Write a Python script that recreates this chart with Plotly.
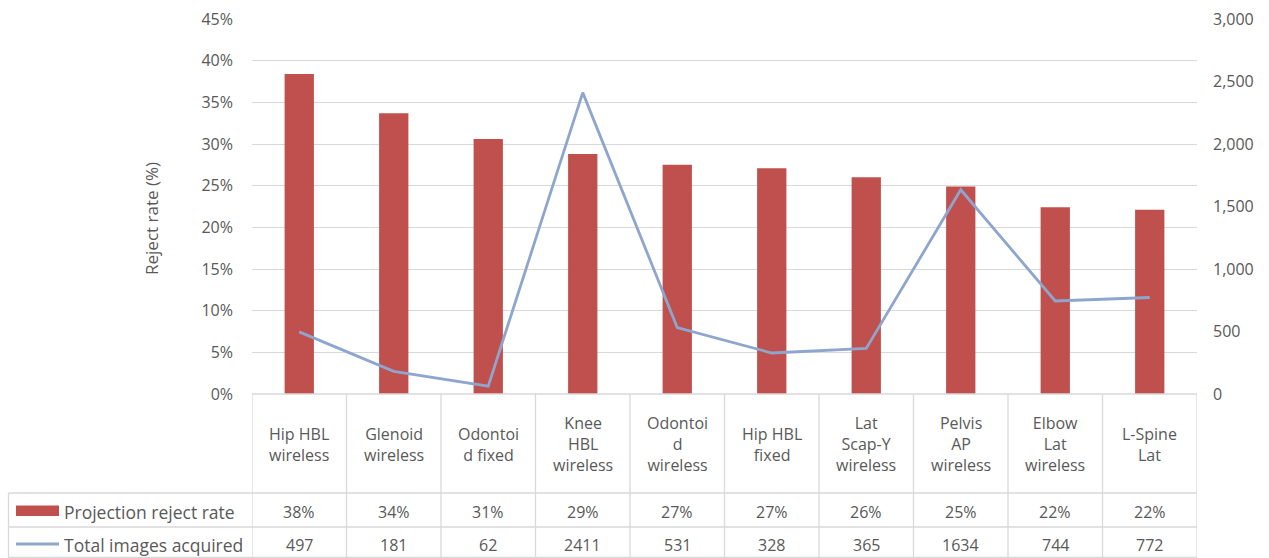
import plotly.graph_objects as go

categories = ["Hip HBL wireless", "Glenoid wireless", "Odontoid fixed", "Knee HBL wireless",
              "Odontoid wireless", "Hip HBL fixed", "Lat Scap-Y wireless", "Pelvis AP wireless",
              "Elbow Lat wireless", "L-Spine Lat"]
cat_labels = ["Hip HBL<br>wireless", "Glenoid<br>wireless", "Odontoi<br>d fixed", "Knee<br>HBL<br>wireless",
              "Odontoi<br>d<br>wireless", "Hip HBL<br>fixed", "Lat<br>Scap-Y<br>wireless", "Pelvis<br>AP<br>wireless",
              "Elbow<br>Lat<br>wireless", "L-Spine<br>Lat"]
reject_rate = [0.384, 0.337, 0.306, 0.288, 0.275, 0.271, 0.260, 0.249, 0.224, 0.221]
reject_labels = ["38%", "34%", "31%", "29%", "27%", "27%", "26%", "25%", "22%", "22%"]
total_images = [497, 181, 62, 2411, 531, 328, 365, 1634, 744, 772]
series_names = ["Projection reject rate", "Total images acquired"]

W, H = 1269, 558
FONT = "Open Sans"
TXT = "#595959"
GRID = "#D9D9D9"
BAR = "#C0504D"
LINE = "#8EA6CE"

def py(px):
    return 1 - px / H

def pxx(px):
    return px / W

x_left, x_right = 252, 1197
y_top, y_bot = 19, 394

fig = go.Figure()
fig.add_trace(go.Bar(x=categories, y=reject_rate, name=series_names[0],
                     marker=dict(color=BAR, line=dict(width=0)), width=0.31, yaxis="y"))
fig.add_trace(go.Scatter(x=categories, y=total_images, name=series_names[1], mode="lines",
                         line=dict(color=LINE, width=2.8), yaxis="y2"))

fig.update_layout(
    width=W, height=H,
    margin=dict(l=0, r=0, t=0, b=0, autoexpand=False),
    paper_bgcolor="white", plot_bgcolor="white",
    showlegend=False,
    font=dict(family=FONT, size=16, color=TXT),
    xaxis=dict(domain=[pxx(x_left), pxx(x_right)], type="category", range=[-0.5, 9.5],
               showticklabels=False, showgrid=False, zeroline=False, showline=False, ticks="",
               automargin=False),
    yaxis=dict(domain=[py(y_bot), py(y_top)], range=[0, 0.45], dtick=0.05, tickformat=".0%",
               showgrid=True, gridcolor=GRID, gridwidth=1, zeroline=False, showline=False,
               ticks="", ticklabelstandoff=18, tickfont=dict(size=16, color=TXT), automargin=False),
    yaxis2=dict(domain=[py(y_bot), py(y_top)], range=[0, 3000], dtick=500, tickformat=",",
                overlaying="y", side="right", showgrid=False, zeroline=False, showline=False,
                ticks="", ticklabelstandoff=15, tickfont=dict(size=16, color=TXT), automargin=False),
)

# y-axis title
fig.add_annotation(x=pxx(151), y=py(219), xref="paper", yref="paper", text="Reject rate (%)",
                   textangle=-90, showarrow=False, font=dict(size=17, color=TXT),
                   xanchor="center", yanchor="middle")

shapes = []
# table borders
row1_top, row2_top, row3_top, table_bot = 394, 493, 527, 557.5
shapes.append(dict(type="line", xref="paper", yref="paper", x0=pxx(x_left), x1=pxx(x_right),
                   y0=py(row1_top), y1=py(row1_top), line=dict(color=GRID, width=1.3)))
for yy in (row2_top, row3_top, table_bot):
    shapes.append(dict(type="line", xref="paper", yref="paper", x0=pxx(8.5), x1=pxx(x_right),
                       y0=py(yy), y1=py(yy), line=dict(color=GRID, width=1.3)))
shapes.append(dict(type="line", xref="paper", yref="paper", x0=pxx(8.5), x1=pxx(8.5),
                   y0=py(row2_top), y1=py(table_bot), line=dict(color=GRID, width=1.3)))
for k in range(len(categories) + 1):
    shapes.append(dict(type="line", xref="x", yref="paper", x0=k - 0.5, x1=k - 0.5,
                       y0=py(row1_top), y1=py(table_bot), line=dict(color=GRID, width=1.3)))
# legend keys
shapes.append(dict(type="rect", xref="paper", yref="paper", x0=pxx(16), x1=pxx(59),
                   y0=py(516), y1=py(505.5), fillcolor=BAR, line=dict(width=0)))
shapes.append(dict(type="line", xref="paper", yref="paper", x0=pxx(16), x1=pxx(59),
                   y0=py(544), y1=py(544), line=dict(color=LINE, width=2.8)))
fig.update_layout(shapes=shapes)

# legend labels
fig.add_annotation(x=pxx(62), y=py(512), xref="paper", yref="paper", text=series_names[0],
                   showarrow=False, xanchor="left", yanchor="middle", font=dict(size=17.5, color=TXT))
fig.add_annotation(x=pxx(62), y=py(545), xref="paper", yref="paper", text=series_names[1],
                   showarrow=False, xanchor="left", yanchor="middle", font=dict(size=17.5, color=TXT))

for c, lab, rl, ti in zip(categories, cat_labels, reject_labels, total_images):
    fig.add_annotation(x=c, y=py(444), xref="x", yref="paper", text=lab, showarrow=False,
                       xanchor="center", yanchor="middle", font=dict(size=16, color=TXT))
    fig.add_annotation(x=c, y=py(512), xref="x", yref="paper", text=rl, showarrow=False,
                       xanchor="center", yanchor="middle", font=dict(size=16, color=TXT))
    fig.add_annotation(x=c, y=py(545), xref="x", yref="paper", text=str(ti),
                       showarrow=False, xanchor="center", yanchor="middle", font=dict(size=16, color=TXT))

fig.write_html("out.html", config={"displayModeBar": False},
               post_script="document.body.style.margin='0px';document.body.style.overflow='hidden';")
